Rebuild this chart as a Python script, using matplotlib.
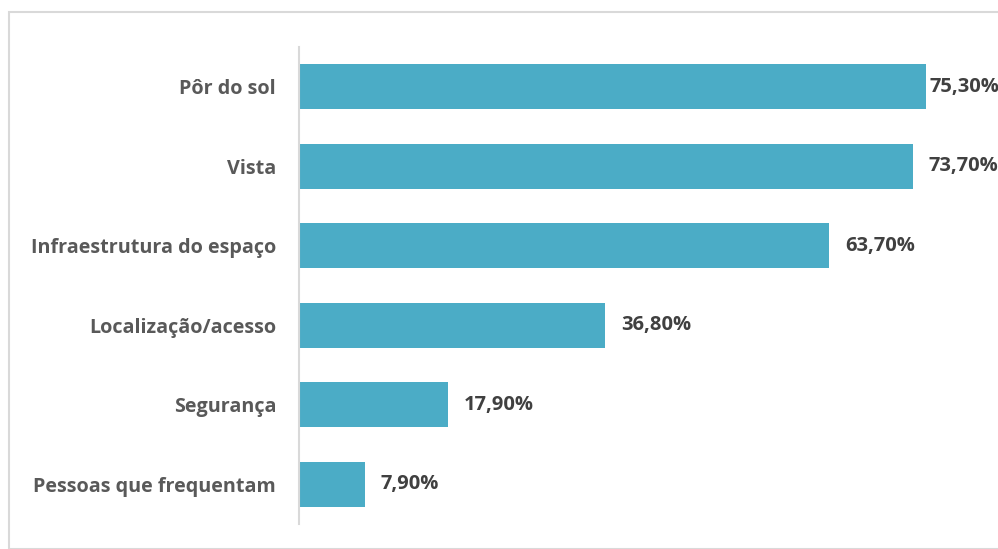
import matplotlib.pyplot as plt
from matplotlib.patches import Rectangle

categories = ['Pôr do sol', 'Vista', 'Infraestrutura do espaço',
              'Localização/acesso', 'Segurança', 'Pessoas que frequentam']
values = [75.3, 73.7, 63.7, 36.8, 17.9, 7.9]
value_labels = ['75,30%', '73,70%', '63,70%', '36,80%', '17,90%', '7,90%']

plt.rcParams['font.family'] = ['Open Sans', 'DejaVu Sans']

fig = plt.figure(figsize=(9.98, 5.49), dpi=100)
W, H = 998, 549

# light frame around the chart area
fig.patches.append(Rectangle((9 / W, 0), 1.2, 1 - 12 / H, transform=fig.transFigure,
                             fill=False, edgecolor='#d9d9d9', linewidth=1.5))

ax = fig.add_axes([299 / W, 1 - 524 / H, 666 / W, 477 / H])
pos = list(range(len(categories)))
ax.barh(pos, values, height=0.57, color='#4bacc6')
ax.set_ylim(len(categories) - 0.5, -0.5)
ax.set_xlim(0, 80)

# value labels sit right of the bar, but never past the plot edge
for p, v, lab in zip(pos, values, value_labels):
    ax.text(min(v + 1.9, 75.7), p, lab, va='center', ha='left', fontsize=14.5,
            fontweight='bold', color='#404040', clip_on=False)

ax.set_yticks(pos)
ax.set_yticklabels(categories, fontsize=14.2, fontweight='bold', color='#595959')
ax.tick_params(axis='y', length=0, pad=16.5)
ax.set_xticks([])
for s in ['top', 'right', 'bottom']:
    ax.spines[s].set_visible(False)
ax.spines['left'].set_color('#d9d9d9')
ax.spines['left'].set_linewidth(1.5)

fig.savefig('out.png', dpi=100)
